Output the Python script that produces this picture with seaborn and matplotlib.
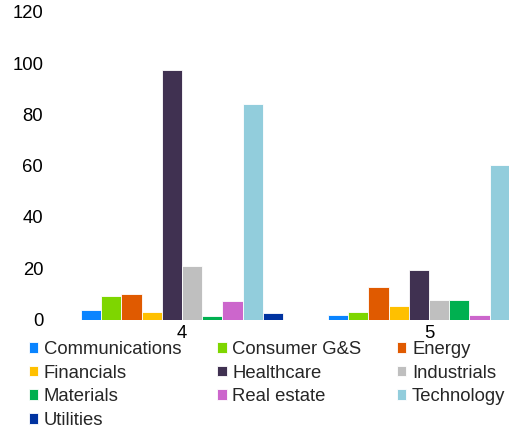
import pandas as pd
import matplotlib.pyplot as plt
import seaborn as sns

sectors = ['Communications', 'Consumer G&S', 'Energy', 'Financials', 'Healthcare',
           'Industrials', 'Materials', 'Real estate', 'Technology', 'Utilities']
colors = ['#0A84FF', '#7ED600', '#E05A00', '#FFC000', '#403151',
          '#BFBFBF', '#00B050', '#CC66CC', '#92CDDC', '#0033A0']
groups = ['4', '5']
vals_4 = [3.8, 9.3, 9.9, 3.1, 97.1, 21.0, 1.4, 7.3, 84.1, 2.7]
vals_5 = [1.8, 2.8, 12.6, 5.1, 19.2, 7.5, 7.7, 1.8, 60.4, 0.0]

df = pd.DataFrame({
    'group': [groups[0]] * len(sectors) + [groups[1]] * len(sectors),
    'sector': sectors + sectors,
    'value': vals_4 + vals_5,
})

sns.set_style('white')
plt.rcParams['font.family'] = ['Liberation Sans', 'DejaVu Sans']

fig = plt.figure(figsize=(5.1, 4.3), dpi=100)
ax = fig.add_axes([58.5 / 510, 110.5 / 430, 494 / 510, 307.8 / 430])

sns.barplot(data=df, x='group', y='value', hue='sector', hue_order=sectors,
            palette=colors, saturation=1, width=0.818, edgecolor='white',
            linewidth=0.6, ax=ax, legend=True)

ax.set_xlim(-0.5, 1.5)
ax.set_ylim(0, 120)
ax.set_yticks(range(0, 121, 20))
ax.set_xlabel('')
ax.set_ylabel('')
for s in ax.spines.values():
    s.set_visible(False)
ax.tick_params(axis='both', length=0, labelsize=13.3, colors='#000000')
ax.tick_params(axis='y', pad=11)
ax.tick_params(axis='x', pad=4)

# legend is filled row by row in the reference
handles, labels = ax.get_legend_handles_labels()
ax.get_legend().remove()
order = [0, 3, 6, 9, 1, 4, 7, 2, 5, 8]
fig.legend([handles[i] for i in order], [labels[i] for i in order],
           ncol=3, loc='upper left', bbox_to_anchor=(29 / 510, 1 - 341 / 430),
           frameon=False, fontsize=13.3, handlelength=0.5, handleheight=0.5,
           handletextpad=0.3, columnspacing=1.95, labelspacing=0.36,
           borderaxespad=0, borderpad=0)

fig.savefig('out.png', dpi=100)
